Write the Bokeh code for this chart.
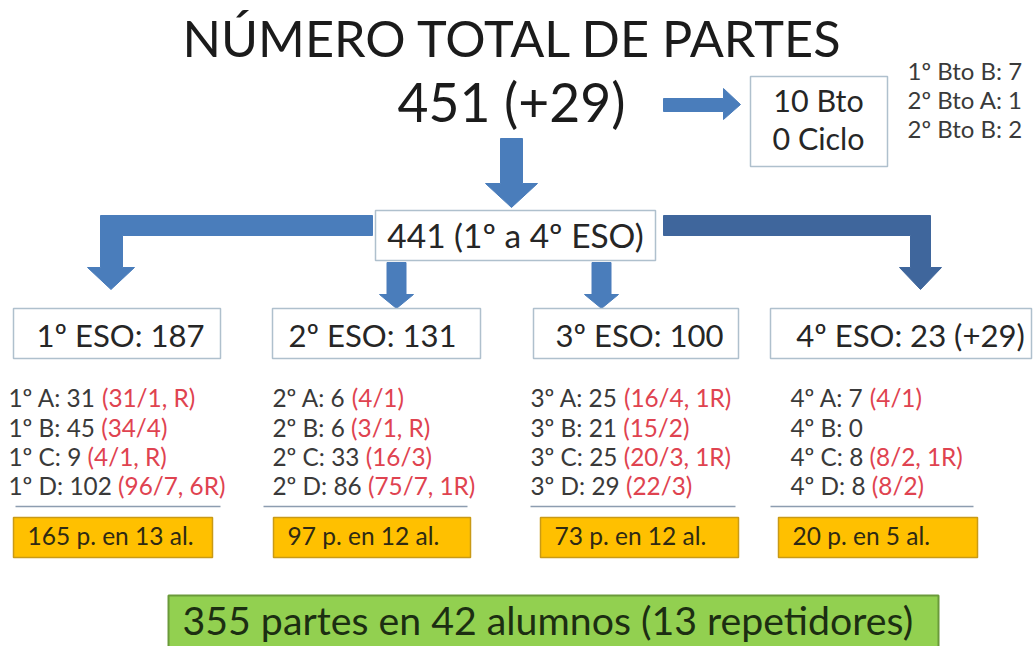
import os, struct, subprocess
from bokeh.plotting import figure
from bokeh.models import Range1d
from bokeh.core.properties import value
from bokeh.embed import file_html
from bokeh.resources import INLINE

# ---------------- data ----------------
title = "NÚMERO TOTAL DE PARTES"
total_label = "451 (+29)"
bach_lines = ["10 Bto", "0 Ciclo"]
bach_detail = ["1º Bto B: 7", "2º Bto A: 1", "2º Bto B: 2"]
eso_label = "441 (1º a 4º ESO)"
course_labels = ["1º ESO: 187", "2º ESO: 131", "3º ESO: 100", "4º ESO: 23 (+29)"]
group_main = [
    ["1º A: 31", "1º B: 45", "1º C: 9", "1º D: 102"],
    ["2º A: 6", "2º B: 6", "2º C: 33", "2º D: 86"],
    ["3º A: 25", "3º B: 21", "3º C: 25", "3º D: 29"],
    ["4º A: 7", "4º B: 0", "4º C: 8", "4º D: 8"],
]
group_detail = [
    ["(31/1, R)", "(34/4)", "(4/1, R)", "(96/7, 6R)"],
    ["(4/1)", "(3/1, R)", "(16/3)", "(75/7, 1R)"],
    ["(16/4, 1R)", "(15/2)", "(20/3, 1R)", "(22/3)"],
    ["(4/1)", "", "(8/2, 1R)", "(8/2)"],
]
summaries = ["165 p. en 13 al.", "97 p. en 12 al.", "73 p. en 12 al.", "20 p. en 5 al."]
grand_total = "355 partes en 42 alumnos (13 repetidores)"

# ---------------- font metrics ----------------
FONT = "Lato"


def find_font():
    for d in ["/usr/share/fonts", "/usr/local/share/fonts",
              os.path.expanduser("~/.fonts"), os.path.expanduser("~/.local/share/fonts")]:
        for root, _, files in os.walk(d):
            for f in files:
                if f.lower() in ("lato-regular.ttf", "lato-regular.otf"):
                    return os.path.join(root, f)
    try:
        out = subprocess.run(["fc-match", "-f", "%{file}", "Lato:style=Regular"],
                             capture_output=True, text=True, timeout=10).stdout.strip()
        if out and os.path.exists(out) and "lato" in out.lower():
            return out
    except Exception:
        pass
    return None


def make_measure(path):
    data = open(path, "rb").read()
    nt = struct.unpack(">H", data[4:6])[0]
    tables = {}
    for i in range(nt):
        tag, cs, off, ln = struct.unpack(">4sIII", data[12 + 16 * i:28 + 16 * i])
        tables[tag.decode("latin1")] = off
    head = tables["head"]
    upem = struct.unpack(">H", data[head + 18:head + 20])[0]
    hhea = tables["hhea"]
    nhm = struct.unpack(">H", data[hhea + 34:hhea + 36])[0]
    hm = tables["hmtx"]
    adv = [struct.unpack(">H", data[hm + 4 * i:hm + 4 * i + 2])[0] for i in range(nhm)]
    cm = tables["cmap"]
    n = struct.unpack(">H", data[cm + 2:cm + 4])[0]
    sub = None
    for i in range(n):
        pid, eid, off = struct.unpack(">HHI", data[cm + 4 + 8 * i:cm + 12 + 8 * i])
        fmt = struct.unpack(">H", data[cm + off:cm + off + 2])[0]
        if pid == 3 and eid == 1 and fmt == 4:
            sub = cm + off
    segx2 = struct.unpack(">H", data[sub + 6:sub + 8])[0]
    seg = segx2 // 2
    ends = struct.unpack(">%dH" % seg, data[sub + 14:sub + 14 + segx2])
    starts = struct.unpack(">%dH" % seg, data[sub + 16 + segx2:sub + 16 + 2 * segx2])
    deltas = struct.unpack(">%dh" % seg, data[sub + 16 + 2 * segx2:sub + 16 + 3 * segx2])
    rpos = sub + 16 + 3 * segx2
    roffs = struct.unpack(">%dH" % seg, data[rpos:rpos + segx2])

    def gid(c):
        for i in range(seg):
            if starts[i] <= c <= ends[i]:
                if roffs[i] == 0:
                    return (c + deltas[i]) & 0xFFFF
                addr = rpos + 2 * i + roffs[i] + 2 * (c - starts[i])
                g = struct.unpack(">H", data[addr:addr + 2])[0]
                return (g + deltas[i]) & 0xFFFF if g else 0
        return 0

    def measure(s):
        tot = 0
        for ch in s:
            g = gid(ord(ch))
            tot += adv[g] if g < nhm else adv[-1]
        return tot / upem
    return measure


def fallback_measure(s):
    w = 0.0
    for ch in s:
        if ch == " ":
            w += 0.19
        elif ch in ".,:;":
            w += 0.22
        elif ch in "()/":
            w += 0.3
        elif ch.isupper():
            w += 0.66
        else:
            w += 0.55
    return w


try:
    _fp = find_font()
    measure = make_measure(_fp) if _fp else fallback_measure
    measure("Aº1")
except Exception:
    measure = fallback_measure

# ---------------- figure ----------------
W, H = 1035, 646
p = figure(width=W, height=H, output_backend="svg", toolbar_location=None,
           x_range=Range1d(0, W), y_range=Range1d(H, 0),
           min_border=0, background_fill_color="white", border_fill_color="white")
p.axis.visible = False
p.grid.visible = False
p.outline_line_color = None

ARROW = "#4A7DBB"
ARROW_DARK = "#3F669C"
BOX_LINE = "#AFC0CD"
TXT = "#262626"
GRAY = "#3A3A3A"
RED = "#DF4350"
BASE_K = 0.40  # renderer's baseline offset correction (fraction of font size)


def txt(x, y, s, size, color, align="left", bold=False):
    p.text(x=[x], y=[y - BASE_K * size], text=[s], text_font=value(FONT),
           text_font_size=value("%.2fpx" % size), text_color=color,
           text_align=align, text_baseline="alphabetic",
           text_font_style="bold" if bold else "normal")


def box(x0, x1, y0, y1, fill, line, lw=1.5):
    p.quad(left=[x0], right=[x1], top=[y0], bottom=[y1],
           fill_color=fill, line_color=line, line_width=lw)


def down_arrow(cx, y_top, y_head, y_tip, half_shaft, half_head, color):
    xs = [cx - half_shaft, cx + half_shaft, cx + half_shaft, cx + half_head, cx,
          cx - half_head, cx - half_shaft]
    ys = [y_top, y_top, y_head, y_head, y_tip, y_head, y_head]
    p.patch(xs, ys, fill_color=color, line_color=color, line_width=1)


# title + total
s_title = 672 / measure(title)
txt(182, 57, title, s_title, "#1B1B1B")
s_total = 228 / measure(total_label)
txt(397, 122, total_label, s_total, "#1B1B1B")

# right arrow to Bto box
p.patch([663, 723, 723, 740, 723, 723, 663], [98, 98, 88, 104, 119, 111, 111],
        fill_color=ARROW, line_color=ARROW, line_width=1)

# Bto box
box(750, 887, 76, 166, "white", BOX_LINE, 1.5)
s_bach = 91 / measure(bach_lines[0])
for s, yb in zip(bach_lines, [112, 150]):
    txt(818, yb, s, s_bach, TXT, align="center")
s_bd = 115 / measure(bach_detail[0])
for s, yb in zip(bach_detail, [80, 109, 138]):
    txt(907, yb, s, s_bd, GRAY)

# main down arrow
down_arrow(511, 138, 183, 207, 11, 26, ARROW)

# ESO box
box(375, 655, 210, 260, "white", BOX_LINE, 1.5)
s_eso = 257 / measure(eso_label)
txt(515, 248, eso_label, s_eso, TXT, align="center")

# L-shaped arrows
p.patch([372, 100, 100, 87, 110.5, 134, 122, 122, 372],
        [215, 215, 267, 267, 289, 267, 267, 235, 235],
        fill_color=ARROW, line_color=ARROW, line_width=1)
p.patch([663, 930, 930, 941, 920, 899, 910, 910, 663],
        [215, 215, 267, 267, 289, 267, 267, 235, 235],
        fill_color=ARROW_DARK, line_color=ARROW_DARK, line_width=1)

# small down arrows
down_arrow(396, 262, 294, 308, 9.5, 17, ARROW)
down_arrow(601, 262, 294, 308, 9.5, 17, ARROW)

# course boxes
course_x = [(13, 220), (272, 480), (533, 738), (770, 1031)]
course_text_cx = [120, 372, 639, 910]
s_course = 168 / measure(course_labels[0])
for (x0, x1), cx, lab in zip(course_x, course_text_cx, course_labels):
    box(x0, x1, 308, 358, "white", BOX_LINE, 1.5)
    txt(cx, 347, lab, s_course, TXT, align="center")

# group lists
list_x = [8, 272, 530, 790]
list_y = [407, 437, 466, 495]
s_list = 217 / measure(group_main[0][3] + " " + group_detail[0][3])
for cx, mains, dets in zip(list_x, group_main, group_detail):
    for yb, m, d in zip(list_y, mains, dets):
        txt(cx, yb, m, s_list, GRAY)
        if d:
            txt(cx + measure(m + " ") * s_list, yb, d, s_list, RED)

# separators
sep_x = [(15, 220), (263, 467), (530, 735), (770, 973)]
for x0, x1 in sep_x:
    p.line([x0, x1], [506, 506], line_color="#8D9DB0", line_width=1.5)

# orange summary boxes
sum_x = [(13, 212), (273, 470), (540, 738), (778, 977)]
s_sum = 166 / measure(summaries[0])
for (x0, x1), lab in zip(sum_x, summaries):
    box(x0, x1, 517, 557, "#FFC000", "#C99A16", 1.5)
    txt(x0 + 14, 545, lab, s_sum, "#2E2A14")

# green grand total
box(168, 938, 595, 652, "#92D050", "#6A9A3A", 2)
s_grand = 733 / measure(grand_total)
txt(182, 635, grand_total, s_grand, "#1C2E12")

open("out.html", "w").write(file_html(p, INLINE))
